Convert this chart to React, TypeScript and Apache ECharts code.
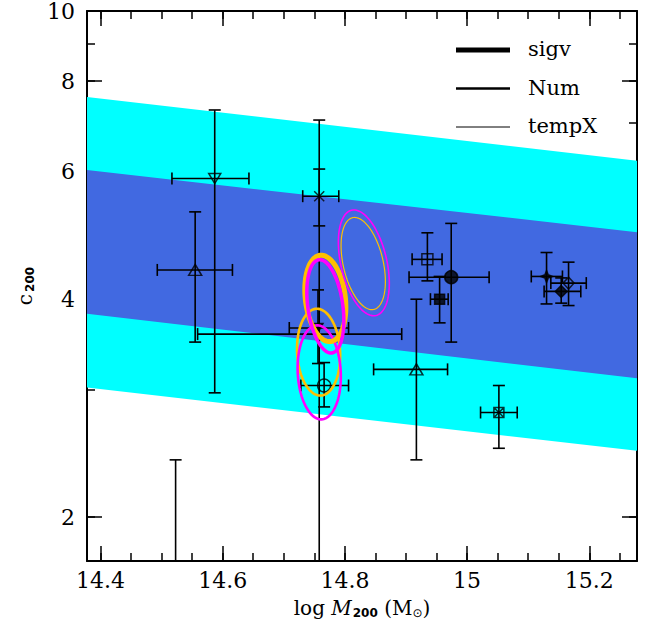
import React, { useEffect, useRef } from "react";
import * as echarts from "echarts";

// ---- axis ranges ----
const X_MIN = 14.378;
const X_MAX = 15.278;
const C_MIN = 1.74;
const C_MAX = 10;

// ---- tick values ----
const xMajorTicks = [14.4, 14.6, 14.8, 15.0, 15.2];
const xMinorTicks = [14.4, 14.45, 14.5, 14.55, 14.6, 14.65, 14.7, 14.75, 14.8, 14.85, 14.9, 14.95, 15.0, 15.05, 15.1, 15.15, 15.2, 15.25];
const cMajorTicks = [2, 4, 6, 8, 10];
const cMinorTicks = [2, 3, 4, 5, 6, 7, 8, 9, 10];

// ---- c-M relation bands (values at the two frame edges) ----
const bandM = [14.378, 15.278];
const outerUpper = [7.61, 6.21];
const innerUpper = [6.03, 4.95];
const innerLower = [3.82, 3.11];
const outerLower = [3.02, 2.47];

// ---- cluster measurements ----
const pointM = [14.555, 14.587, 14.758, 14.756, 14.758, 14.766, 14.935, 14.974, 14.955, 14.917, 15.052, 15.130, 15.166, 15.154, 14.523];
const pointC = [4.39, 5.87, 5.55, 3.65, 3.58, 3.04, 4.54, 4.29, 4.00, 3.20, 2.79, 4.30, 4.21, 4.10, 1.50];
const pointMLow = [14.493, 14.517, 14.731, 14.709, 14.559, 14.728, 14.910, 14.905, 14.940, 14.847, 15.022, 15.105, 15.137, 15.126, 14.50];
const pointMHigh = [14.616, 14.643, 14.790, 14.806, 14.893, 14.806, 14.959, 15.036, 14.969, 14.968, 15.082, 15.156, 15.195, 15.186, 14.55];
const pointCLow = [3.49, 2.97, 5.05, 3.26, 1.00, 2.84, 4.24, 3.49, 3.71, 2.40, 2.49, 3.94, 3.92, 3.95, 1.20];
const pointCHigh = [5.28, 7.30, 6.05, 4.12, 7.07, 3.27, 4.94, 5.09, 4.30, 4.00, 3.04, 4.64, 4.50, 4.28, 2.40];

// marker styles (one per point)
const SYM_X = "path://M0,0L10,10M10,0L0,10";
const SYM_XSQ = "path://M0,0H10V10H0ZM0,0L10,10M10,0L0,10";
const SYM_STAR = "path://M5,0L6.4,3.6L10,5L6.4,6.4L5,10L3.6,6.4L0,5L3.6,3.6Z";
const markerSymbol = ["triangle", "triangle", SYM_X, "triangle", "none", "circle", "rect", "circle", "rect", "triangle", SYM_XSQ, SYM_STAR, "diamond", "diamond", "none"];
const markerRotate = [0, 180, 0, 180, 0, 0, 0, 0, 0, 0, 0, 0, 0, 0, 0];
const markerSize = [[13, 11], [12, 10], [10, 10], [10, 9], [0, 0], [13, 13], [11, 11], [13, 13], [10, 10], [13, 11], [10, 10], [12, 12], [11, 12], [12, 12], [0, 0]];
const markerFilled = [false, false, false, true, false, false, false, true, true, false, false, true, false, true, false];

// ---- likelihood contours (center, half-width in log M, half-height in dex, tilt) ----
const ellM = [14.757, 14.758, 14.768, 14.768, 14.831, 14.830];
const ellC = [3.38, 3.17, 4.01, 3.91, 4.49, 4.48];
const ellDM = [0.0352, 0.0352, 0.0327, 0.0286, 0.0376, 0.0327];
const ellDex = [0.060, 0.065, 0.060, 0.065, 0.0746, 0.065];
const ellTilt = [-3, -3, -7, -8, -13, -13];
const ellColor = ["#FFBF00", "#FF00FF", "#FFBF00", "#FF00FF", "#FF00FF", "#FFBF00"];
const ellWidth = [2.6, 2.6, 5, 3.5, 1.6, 1.2];

// ---- legend ----
const legendNames = ["sigv", "Num", "tempX"];
const legendWidths = [5, 2.5, 1];

const lg = (v: number) => Math.log10(v);

export default function App() {
  const ref = useRef<HTMLDivElement>(null);
  useEffect(() => {
    if (!ref.current) return;
    const chart = echarts.init(ref.current, undefined, { renderer: "svg" });

    const serif = "DejaVu Serif";
    const black = "#000";
    const yMin = lg(C_MIN);
    const yMax = lg(C_MAX);

    const fmtX = (v: number) => String(Math.round(v * 10) / 10);
    const fmtY = (v: number) => String(Math.round(Math.pow(10, v)));

    const xAxisBase = {
      type: "value",
      min: X_MIN,
      max: X_MAX,
      splitLine: { show: false },
    };
    const yAxisBase = {
      type: "value",
      min: yMin,
      max: yMax,
      splitLine: { show: false },
    };
    const tickStyle = { color: black, width: 1.5 };
    const lineStyle = { color: black, width: 2 };

    const bandSeries = (lower: number[], upper: number[], color: string, z: number) => ({
      type: "custom",
      silent: true,
      clip: true,
      z,
      xAxisIndex: 0,
      yAxisIndex: 0,
      data: [[bandM[0], lg(lower[0])]],
      renderItem: (_p: any, api: any) => {
        const pts: number[][] = [];
        for (let i = 0; i < bandM.length; i++) pts.push(api.coord([bandM[i], lg(upper[i])]));
        for (let i = bandM.length - 1; i >= 0; i--) pts.push(api.coord([bandM[i], lg(lower[i])]));
        return { type: "polygon", shape: { points: pts }, style: { fill: color, stroke: "none" } };
      },
    });

    const errData = pointM.map((m, i) => [m, lg(pointC[i]), pointMLow[i], pointMHigh[i], lg(pointCLow[i]), lg(pointCHigh[i])]);

    const markerData = pointM
      .map((m, i) => ({
        value: [m, lg(pointC[i])],
        symbol: markerSymbol[i],
        symbolSize: markerSize[i],
        symbolRotate: markerRotate[i],
        itemStyle: {
          color: markerFilled[i] ? black : "transparent",
          borderColor: black,
          borderWidth: 1.5,
        },
      }))
      .filter((d) => d.symbol !== "none");

    const ellData = ellM.map((m, i) => [m, lg(ellC[i]), ellDM[i], ellDex[i], ellTilt[i]]);

    const option: any = {
      animation: false,
      backgroundColor: "#fff",
      grid: { left: 87, right: 19, top: 11, bottom: 74, containLabel: false },
      xAxis: [
        {
          ...xAxisBase,
          position: "bottom",
          axisLine: { show: true, lineStyle },
          axisTick: { show: true, inside: true, length: 15, customValues: xMajorTicks, lineStyle: tickStyle },
          axisLabel: { show: true, customValues: xMajorTicks, formatter: fmtX, color: black, fontSize: 22, fontFamily: serif, margin: 8 },
          name: "{n|log }{i|M}{s|200}{n| (M}{o|⊙}{n|)}",
          nameLocation: "middle",
          nameGap: 34,
          nameTextStyle: {
            color: black,
            rich: {
              n: { fontFamily: serif, fontSize: 20, color: black, lineHeight: 26, verticalAlign: "middle" },
              i: { fontFamily: serif, fontStyle: "italic", fontSize: 20, color: black, lineHeight: 26 },
              s: { fontFamily: "DejaVu Sans", fontWeight: "bold", fontSize: 12, color: black, padding: [10, 0, 0, 1] },
              o: { fontFamily: "DejaVu Sans", fontSize: 12, color: black, padding: [10, 0, 0, 0] },
            },
          },
        },
        {
          ...xAxisBase,
          position: "bottom",
          axisLine: { show: false },
          axisTick: { show: true, inside: true, length: 8, customValues: xMinorTicks, lineStyle: tickStyle },
          axisLabel: { show: false },
        },
        {
          ...xAxisBase,
          position: "top",
          axisLine: { show: true, lineStyle },
          axisTick: { show: true, inside: true, length: 15, customValues: xMajorTicks, lineStyle: tickStyle },
          axisLabel: { show: false },
        },
        {
          ...xAxisBase,
          position: "top",
          axisLine: { show: false },
          axisTick: { show: true, inside: true, length: 8, customValues: xMinorTicks, lineStyle: tickStyle },
          axisLabel: { show: false },
        },
      ],
      yAxis: [
        {
          ...yAxisBase,
          position: "left",
          axisLine: { show: true, lineStyle },
          axisTick: { show: true, inside: true, length: 15, customValues: cMajorTicks.map(lg), lineStyle: tickStyle },
          axisLabel: { show: true, customValues: cMajorTicks.map(lg), formatter: fmtY, color: black, fontSize: 22, fontFamily: serif, margin: 12 },
          name: "{i|c}{s|200}",
          nameLocation: "middle",
          nameGap: 48,
          nameRotate: 90,
          nameTextStyle: {
            color: black,
            rich: {
              i: { fontFamily: serif, fontSize: 20, color: black, lineHeight: 26 },
              s: { fontFamily: "DejaVu Sans", fontWeight: "bold", fontSize: 12, color: black, padding: [10, 0, 0, 2] },
            },
          },
        },
        {
          ...yAxisBase,
          position: "left",
          axisLine: { show: false },
          axisTick: { show: true, inside: true, length: 8, customValues: cMinorTicks.map(lg), lineStyle: tickStyle },
          axisLabel: { show: false },
        },
        {
          ...yAxisBase,
          position: "right",
          axisLine: { show: true, lineStyle },
          axisTick: { show: true, inside: true, length: 15, customValues: cMajorTicks.map(lg), lineStyle: tickStyle },
          axisLabel: { show: false },
        },
        {
          ...yAxisBase,
          position: "right",
          axisLine: { show: false },
          axisTick: { show: true, inside: true, length: 8, customValues: cMinorTicks.map(lg), lineStyle: tickStyle },
          axisLabel: { show: false },
        },
      ],
      series: [
        bandSeries(outerLower, outerUpper, "#00FFFF", 1),
        bandSeries(innerLower, innerUpper, "#4169E1", 2),
        {
          type: "custom",
          silent: true,
          clip: true,
          z: 3,
          xAxisIndex: 0,
          yAxisIndex: 0,
          data: errData,
          renderItem: (_p: any, api: any) => {
            const m = api.value(0);
            const lc = api.value(1);
            const p = api.coord([m, lc]);
            const xl = api.coord([api.value(2), lc])[0];
            const xh = api.coord([api.value(3), lc])[0];
            const yb = api.coord([m, api.value(4)])[1];
            const yt = api.coord([m, api.value(5)])[1];
            const cap = 6;
            const st = { stroke: black, lineWidth: 1.6 };
            const ln = (x1: number, y1: number, x2: number, y2: number) => ({ type: "line", shape: { x1, y1, x2, y2 }, style: st });
            return {
              type: "group",
              children: [
                ln(xl, p[1], xh, p[1]),
                ln(xl, p[1] - cap, xl, p[1] + cap),
                ln(xh, p[1] - cap, xh, p[1] + cap),
                ln(p[0], yb, p[0], yt),
                ln(p[0] - cap, yb, p[0] + cap, yb),
                ln(p[0] - cap, yt, p[0] + cap, yt),
              ],
            };
          },
        },
        {
          type: "scatter",
          silent: true,
          z: 4,
          xAxisIndex: 0,
          yAxisIndex: 0,
          data: markerData,
        },
        {
          type: "custom",
          silent: true,
          clip: true,
          z: 5,
          xAxisIndex: 0,
          yAxisIndex: 0,
          data: ellData,
          renderItem: (params: any, api: any) => {
            const i = params.dataIndex;
            const m = api.value(0);
            const lc = api.value(1);
            const c = api.coord([m, lc]);
            const rx = Math.abs(api.coord([m + api.value(2), lc])[0] - c[0]);
            const ry = Math.abs(c[1] - api.coord([m, lc + api.value(3)])[1]);
            const th = (api.value(4) * Math.PI) / 180;
            const pts: number[][] = [];
            const N = 120;
            for (let k = 0; k < N; k++) {
              const t = (2 * Math.PI * k) / N;
              const ex = rx * Math.cos(t);
              const ey = ry * Math.sin(t);
              pts.push([c[0] + ex * Math.cos(th) - ey * Math.sin(th), c[1] + ex * Math.sin(th) + ey * Math.cos(th)]);
            }
            return { type: "polygon", shape: { points: pts }, style: { fill: "none", stroke: ellColor[i], lineWidth: ellWidth[i] } };
          },
        },
      ],
      graphic: legendNames.flatMap((name, i) => [
        { type: "line", z: 10, shape: { x1: 456, y1: 50 + i * 38.5, x2: 510, y2: 50 + i * 38.5 }, style: { stroke: black, lineWidth: legendWidths[i] } },
        { type: "text", z: 10, x: 528, y: 49 + i * 38.5, style: { text: name, fontSize: 21, fontFamily: serif, fill: black, verticalAlign: "middle" } },
      ]),
    };

    chart.setOption(option);
    return () => chart.dispose();
  }, []);

  return <div ref={ref} style={{ position: "absolute", left: 0, top: 0, width: 656, height: 635 }} />;
}
